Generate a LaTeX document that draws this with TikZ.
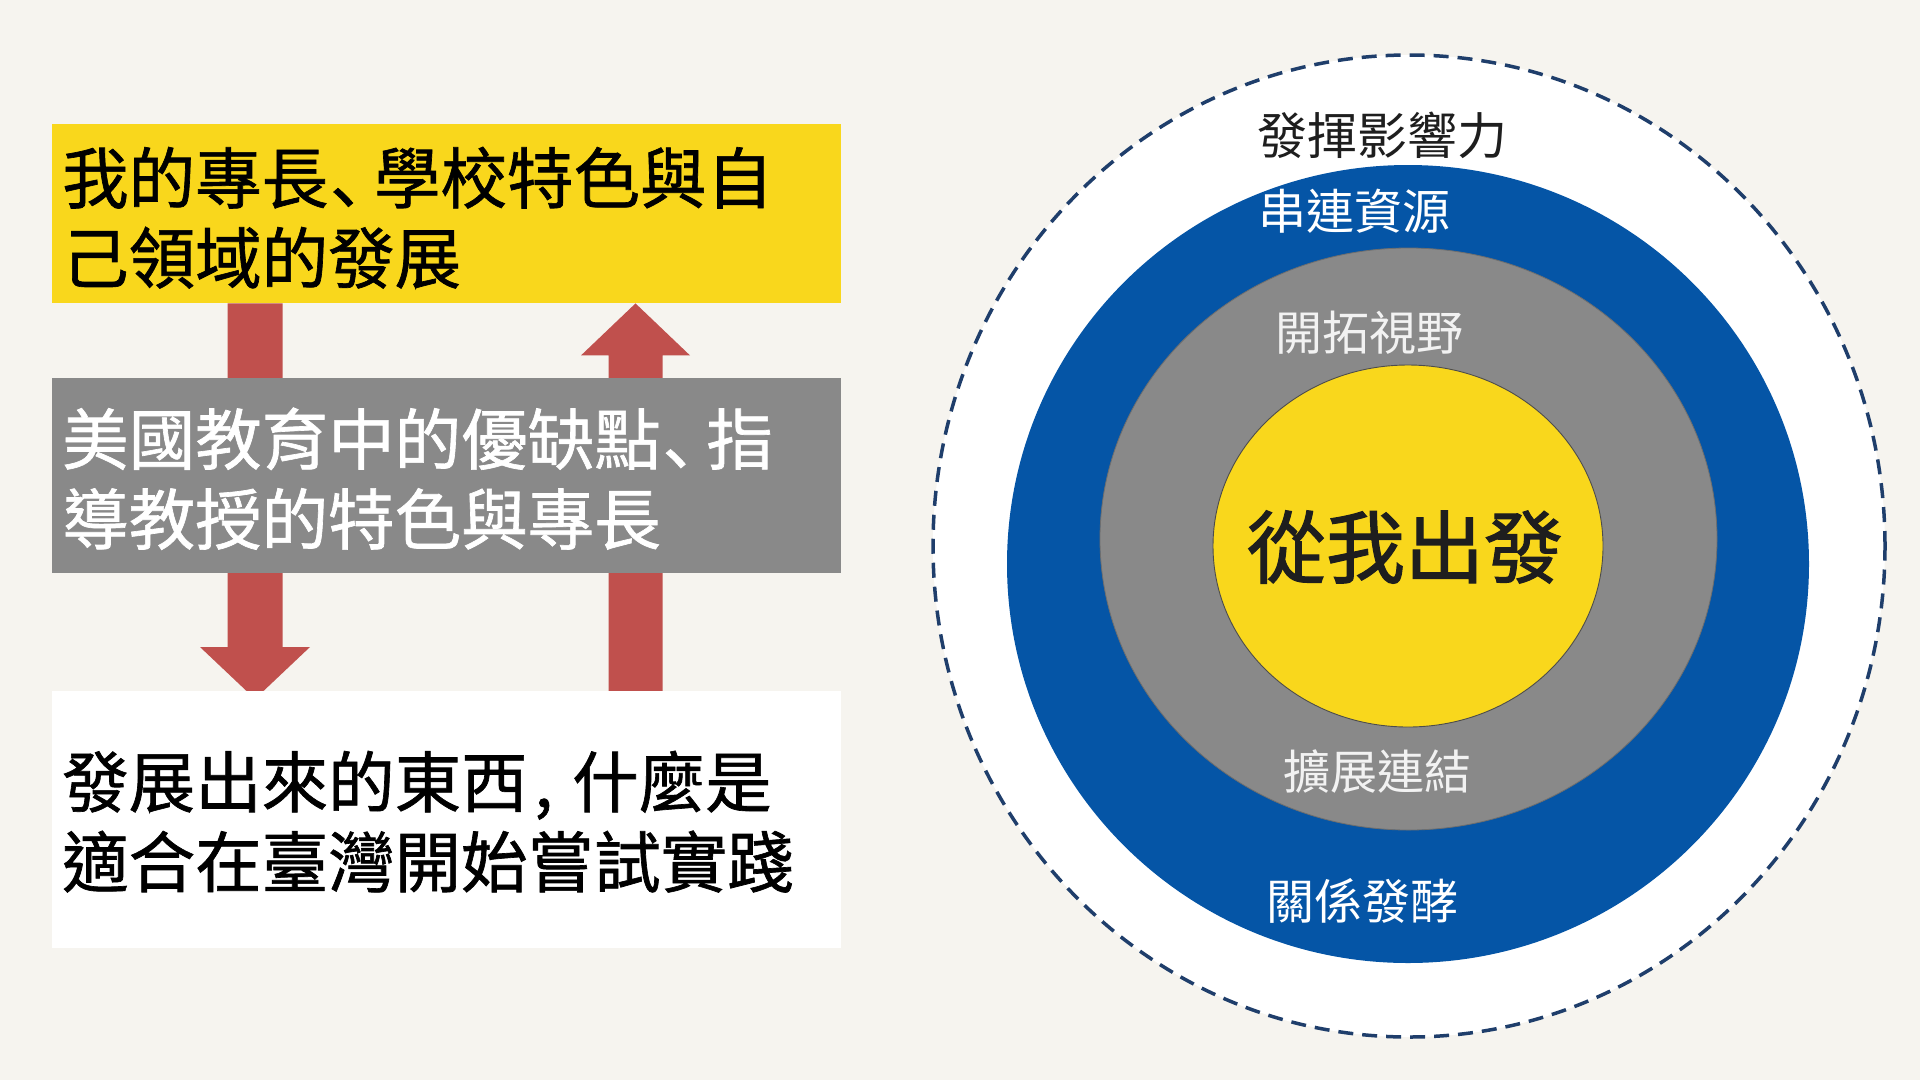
\documentclass[tikz,border=0pt]{standalone}
\usepackage{fontspec}
\newfontfamily\tc{Noto Sans CJK TC}
\newfontfamily\tcb[FakeBold=1]{Noto Sans CJK TC}
\newfontfamily\tcbb[FakeBold=1.5]{Noto Sans CJK TC}
\newfontfamily\scf[FakeBold=1]{Noto Sans CJK SC}
\usetikzlibrary{shapes.geometric,calc}
\definecolor{pagebg}{HTML}{F6F4EF}
\definecolor{yel}{HTML}{F9D71C}
\definecolor{gry}{HTML}{898989}
\definecolor{blu}{HTML}{0555A6}
\definecolor{arrred}{HTML}{C0504D}
\definecolor{navy}{HTML}{1F3E6B}
\definecolor{ink}{HTML}{1E1E1E}
\newcommand\dunhao{\makebox[0.69em][l]{\hspace{0.03em}\scf 、}}
\newcommand\douhao{\makebox[0.67em][l]{\hspace{0.1em},}}
\pgfdeclarelayer{pagelayer}
\pgfdeclarelayer{arrowlayer}
\pgfsetlayers{pagelayer,arrowlayer,main}
\begin{document}
\begin{tikzpicture}[x=1pt,y=-1pt,
  box/.style={rectangle, inner sep=0pt, anchor=north west, minimum width=789pt},
  boxtext/.style={anchor=west, inner sep=0pt, align=left, font=\tcb\fontsize{66.5}{80}\selectfont},
  ring/.style={ellipse, inner sep=0pt},
  lbl/.style={inner sep=0pt, anchor=center}
]
\begin{pgfonlayer}{pagelayer}
\fill[pagebg] (0,0) rectangle (1920,1080);
\end{pgfonlayer}
\useasboundingbox (0,0) rectangle (1920,1080);

% left boxes
\node[box, fill=yel, minimum height=179pt] (ybox) at (52,124) {};
\node[box, fill=gry, minimum height=195pt] (gbox) at (52,378) {};
\node[box, fill=white, minimum height=257pt] (wbox) at (52,691) {};

\node[boxtext, text=black] (ytext) at ($(ybox.west)+(10,4)$) {我的專長\dunhao 學校特色與自\\己領域的發展};
\node[boxtext, text=white] (gtext) at ($(gbox.west)+(10,3)$) {美國教育中的優缺點\dunhao 指\\導教授的特色與專長};
\node[boxtext, text=black] (wtext) at ($(wbox.west)+(10,2)$) {發展出來的東西\douhao 什麼是\\適合在臺灣開始嘗試實踐};

% block arrows
\coordinate (dnA) at ($(ybox.south west)+(203,0)$);
\coordinate (dnB) at ($(wbox.north west)+(203,0)$);
\coordinate (upA) at ($(wbox.north west)+(583.5,0)$);
\coordinate (upB) at ($(ybox.south west)+(583.5,0)$);
\begin{pgfonlayer}{arrowlayer}
\fill[arrred] ($(dnA)+(-27.5,0)$) -- ($(dnB)+(-27.5,-44)$) -- ($(dnB)+(-55,-44)$)
  -- ($(dnB)+(0,8)$) -- ($(dnB)+(55,-44)$) -- ($(dnB)+(27.5,-44)$) -- ($(dnA)+(27.5,0)$) -- cycle;
\fill[arrred] ($(upA)+(-27,0)$) -- ($(upB)+(-27,52)$) -- ($(upB)+(-54.5,52)$)
  -- (upB) -- ($(upB)+(54.5,52)$) -- ($(upB)+(27,52)$) -- ($(upA)+(27,0)$) -- cycle;
\end{pgfonlayer}

% concentric rings
\node[ring, fill=white, draw=navy, line width=3.5pt, dash pattern=on 15pt off 9pt,
  minimum width=952pt, minimum height=982pt] (outer) at (1409,546) {};
\node[ring, fill=blu, minimum width=802pt, minimum height=798pt] (bluering) at (1408,564) {};
\node[ring, fill=gry, draw=gry!80!black, line width=0.8pt, minimum width=617pt, minimum height=582pt] (grayring) at (1408.5,539) {};
\node[ring, fill=yel, draw=black!70, line width=0.9pt, minimum width=390pt, minimum height=362pt] (core) at (1408,546) {};

\node[lbl, text=ink, font=\tc\fontsize{50}{60}\selectfont] (l1) at (1382,135) {發揮影響力};
\node[lbl, text=white, font=\tc\fontsize{48}{58}\selectfont] (l2) at (1354,211.5) {串連資源};
\node[lbl, text=white!95!black, font=\tc\fontsize{47}{57}\selectfont] (l3) at (1369,333) {開拓視野};
\node[lbl, text=ink, font=\tcbb\fontsize{79}{90}\selectfont] (l4) at (1405,547) {從我出發};
\node[lbl, text=white!95!black, font=\tc\fontsize{47}{57}\selectfont] (l5) at (1377,772) {擴展連結};
\node[lbl, text=white, font=\tc\fontsize{48}{58}\selectfont] (l6) at (1362,901) {關係發酵};
\end{tikzpicture}
\end{document}
